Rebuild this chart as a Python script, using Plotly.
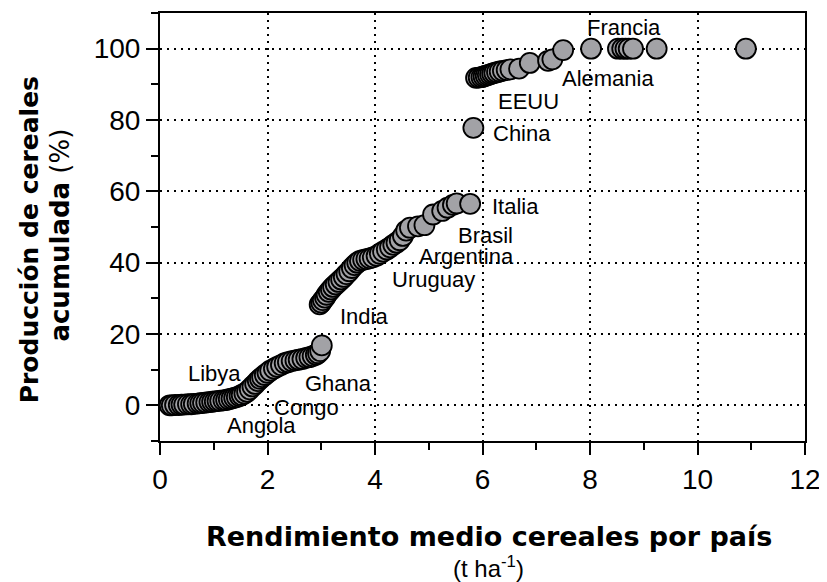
import plotly.graph_objects as go

# Rendimiento medio de cereales por país (t/ha), ordenado de menor a mayor
rendimiento = [
    0.18, 0.22, 0.28, 0.35, 0.40, 0.45, 0.52, 0.58, 0.63, 0.70,
    0.75, 0.80, 0.86, 0.92, 0.97, 1.02, 1.07, 1.12, 1.18, 1.23,
    1.28, 1.33, 1.38, 1.43, 1.48, 1.52, 1.57, 1.62, 1.67, 1.72,
    1.77, 1.82, 1.86, 1.90, 1.95, 2.00, 2.05, 2.12, 2.18, 2.25,
    2.32, 2.38, 2.45, 2.52, 2.58, 2.65, 2.72, 2.78, 2.84, 2.90,
    2.94, 2.98, 3.01,
    2.97, 3.00, 3.03, 3.07, 3.10, 3.14, 3.18, 3.22, 3.27, 3.32,
    3.37, 3.42, 3.47, 3.52, 3.57, 3.62, 3.67, 3.72, 3.78, 3.84,
    3.90, 3.96, 4.03, 4.09, 4.15, 4.22, 4.28, 4.34, 4.40, 4.46,
    4.52, 4.58, 4.65, 4.80, 4.92, 5.08, 5.25, 5.35, 5.45, 5.52,
    5.77,
    5.83,
    5.88, 5.93, 5.98, 6.02, 6.06, 6.10, 6.14, 6.18, 6.22, 6.27,
    6.32, 6.38, 6.45, 6.52, 6.68, 6.88, 7.22, 7.30, 7.50, 8.02,
    8.52, 8.60, 8.66, 8.72, 8.80, 9.24, 10.90,
]

# Producción de cereales acumulada (%)
acumulado = [
    0.0, 0.0, 0.1, 0.1, 0.2, 0.2, 0.3, 0.3, 0.4, 0.5,
    0.6, 0.7, 0.8, 0.9, 1.0, 1.1, 1.2, 1.3, 1.4, 1.5,
    1.7, 1.9, 2.1, 2.3, 2.6, 2.9, 3.3, 3.8, 4.5, 5.3,
    6.0, 6.8, 7.4, 7.9, 8.5, 9.1, 9.7, 10.3, 10.8, 11.3,
    11.8, 12.1, 12.4, 12.6, 12.8, 13.0, 13.3, 13.5, 13.8, 14.2,
    14.6, 15.2, 16.8,
    28.3, 28.8, 29.5, 30.2, 31.0, 31.8, 32.5, 33.2, 33.9, 34.6,
    35.3, 36.0, 36.8, 37.6, 38.5, 39.3, 40.0, 40.5, 40.8, 41.0,
    41.2, 41.5, 41.9, 42.5, 43.1, 43.7, 44.3, 45.0, 45.6, 46.3,
    47.5, 49.0, 49.8, 50.2, 50.5, 53.5, 54.5, 55.4, 56.2, 56.6,
    56.5,
    77.8,
    91.8, 91.9, 92.0, 92.2, 92.4, 92.6, 92.8, 93.0, 93.2, 93.4,
    93.6, 93.8, 94.0, 94.2, 94.4, 96.0, 96.6, 97.0, 99.6, 100.0,
    100.0, 100.0, 100.0, 100.0, 100.0, 100.0, 100.0,
]

# Etiquetas de países
paises = ["Francia", "Alemania", "EEUU", "China", "Italia", "Brasil",
          "Argentina", "Uruguay", "India", "Ghana", "Congo", "Angola", "Libya"]
paises_x = [8.63, 8.34, 6.85, 6.74, 6.62, 6.05, 5.71, 5.08, 3.80, 3.32, 2.73, 1.88, 1.01]
paises_y = [106.0, 91.7, 85.2, 76.3, 55.8, 47.5, 41.6, 35.4, 24.9, 6.2, -0.5, -5.6, 9.0]

font_fam = "Liberation Sans, Arial, sans-serif"
title_fam = "DejaVu Sans, sans-serif"

fig = go.Figure()
fig.add_trace(go.Scatter(
    x=rendimiento, y=acumulado, mode="markers",
    marker=dict(size=20, color="#a2a2a6", line=dict(color="black", width=1.8)),
    showlegend=False,
))

for name, px_, py_ in zip(paises, paises_x, paises_y):
    fig.add_annotation(x=px_, y=py_, xref="x", yref="y", text=name, showarrow=False,
                       font=dict(family=font_fam, size=22, color="black"),
                       xanchor="center", yanchor="middle")

# Títulos de ejes
fig.add_annotation(x=-0.203, y=0.469, xref="paper", yref="paper",
                   text="<b>Producción de cereales</b>", textangle=-90, showarrow=False,
                   font=dict(family=title_fam, size=25, color="black"),
                   xanchor="center", yanchor="middle")
fig.add_annotation(x=-0.155, y=0.48, xref="paper", yref="paper",
                   text="<b>acumulada</b> (%)", textangle=-90, showarrow=False,
                   font=dict(family=title_fam, size=26, color="black"),
                   xanchor="center", yanchor="middle")
fig.add_annotation(x=0.51, y=-0.223, xref="paper", yref="paper",
                   text="<b>Rendimiento medio cereales por país</b>", showarrow=False,
                   font=dict(family=title_fam, size=27, color="black"),
                   xanchor="center", yanchor="middle")
fig.add_annotation(x=0.51, y=-0.295, xref="paper", yref="paper",
                   text="(t ha<sup>-1</sup>)", showarrow=False,
                   font=dict(family=font_fam, size=24, color="black"),
                   xanchor="center", yanchor="middle")

axis_common = dict(
    showline=True, linecolor="black", linewidth=2, mirror=True,
    ticks="outside", ticklen=12, tickwidth=2, tickcolor="black",
    showgrid=True, gridcolor="black", gridwidth=2, griddash="2px,5px",
    zeroline=False,
    tickfont=dict(family=font_fam, size=28, color="black"),
)

fig.update_xaxes(range=[0, 12], tickvals=[0, 2, 4, 6, 8, 10, 12],
                 minor=dict(dtick=1, tick0=0, ticks="outside", ticklen=7, tickwidth=2,
                            tickcolor="black", showgrid=False),
                 **axis_common)
fig.update_yaxes(range=[-10, 110], tickvals=[0, 20, 40, 60, 80, 100],
                 minor=dict(dtick=10, tick0=0, ticks="outside", ticklen=7, tickwidth=2,
                            tickcolor="black", showgrid=False),
                 **axis_common)

# la página añade 8 px de margen al cuerpo, así que la figura se reduce
fig.update_layout(
    width=819, height=574,
    margin=dict(l=152, r=22, t=3, b=141),
    plot_bgcolor="white", paper_bgcolor="white",
)

fig.write_html("out.html")
